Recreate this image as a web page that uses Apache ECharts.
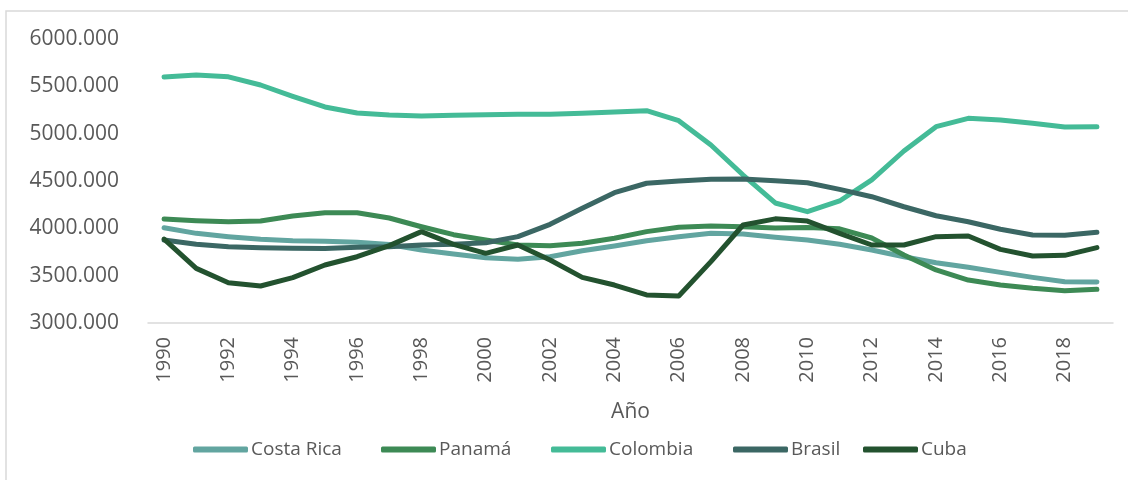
<!DOCTYPE html>
<html>
<head>
<meta charset="utf-8">
<script src="https://cdn.jsdelivr.net/npm/echarts@6/dist/echarts.min.js"></script>
<style>
  html, body { margin: 0; padding: 0; background: #fff; }
  #chart { width: 1128px; height: 480px; }
</style>
</head>
<body>
<div id="chart"></div>
<script>
var years = [];
for (var y = 1990; y <= 2019; y++) years.push(String(y));

// valores
var costaRica = [4007, 3947, 3912, 3884, 3869, 3863, 3852, 3830, 3771, 3729,
                 3690, 3673, 3700, 3764, 3813, 3869, 3912, 3947, 3940, 3905,
                 3877, 3831, 3771, 3700, 3637, 3588, 3535, 3482, 3436, 3433];
var panama = [4099, 4081, 4070, 4077, 4130, 4165, 4165, 4109, 4017, 3933,
              3877, 3824, 3817, 3842, 3895, 3965, 4011, 4025, 4017, 4003,
              4010, 3995, 3898, 3718, 3560, 3454, 3401, 3366, 3341, 3356];
var colombia = [5598, 5620, 5600, 5514, 5395, 5282, 5218, 5197, 5187, 5195,
                5200, 5205, 5204, 5215, 5230, 5243, 5137, 4880, 4563, 4268,
                4176, 4289, 4511, 4817, 5074, 5162, 5144, 5110, 5070, 5074];
var brasil = [3877, 3831, 3806, 3796, 3789, 3786, 3799, 3806, 3824, 3831,
              3848, 3912, 4042, 4211, 4377, 4476, 4500, 4518, 4521, 4503,
              4482, 4412, 4334, 4228, 4133, 4070, 3990, 3930, 3926, 3958];
var cuba = [3887, 3577, 3426, 3391, 3479, 3613, 3700, 3817, 3965, 3831,
            3736, 3824, 3665, 3482, 3401, 3296, 3285, 3648, 4035, 4100,
            4077, 3947, 3824, 3824, 3912, 3919, 3778, 3708, 3715, 3796];

var names = ['Costa Rica', 'Panamá', 'Colombia', 'Brasil', 'Cuba'];
var colors = ['#62a5a0', '#3d8a55', '#44bb97', '#3b6764', '#23522f'];
var values = [costaRica, panama, colombia, brasil, cuba];
// posición x de cada entrada de la leyenda
var legendLeft = [188, 376, 546, 728, 858];

var chart = echarts.init(document.getElementById('chart'));
var font = 'Open Sans';
var textColor = '#595959';

var series = names.map(function (n, i) {
    return {
        name: n,
        type: 'line',
        data: values[i],
        symbol: 'none',
        smooth: false,
        lineStyle: { width: 5, color: colors[i], cap: 'round', join: 'round' },
        itemStyle: { color: colors[i] }
    };
});

var legends = names.map(function (n, i) {
    return {
        left: legendLeft[i],
        top: 435,
        icon: 'roundRect',
        itemWidth: 55,
        itemHeight: 6,
        itemStyle: { borderWidth: 0 },
        textStyle: { fontFamily: font, fontSize: 19, color: textColor, padding: [0, 0, 0, -2] },
        data: [n]
    };
});

chart.setOption({
    animation: false,
    backgroundColor: '#fff',
    color: colors,
    textStyle: { fontFamily: font },
    graphic: [{
        type: 'rect',
        shape: { x: 6, y: 11, width: 1140, height: 490 },
        style: { fill: 'none', stroke: '#d9d9d9', lineWidth: 1.5 },
        silent: true
    }],
    grid: { left: 148, right: 15, top: 39, bottom: 157 },
    legend: legends,
    xAxis: {
        type: 'category',
        data: years,
        boundaryGap: true,
        name: 'Año',
        nameLocation: 'middle',
        nameGap: 79,
        nameTextStyle: { fontFamily: font, fontSize: 21, color: textColor },
        axisLine: { lineStyle: { color: '#d9d9d9', width: 1.5 } },
        axisTick: { show: false },
        axisLabel: {
            interval: 1,
            rotate: 90,
            margin: 14,
            fontFamily: font,
            fontSize: 20,
            color: textColor
        }
    },
    yAxis: {
        type: 'value',
        min: 3000,
        max: 6000,
        interval: 500,
        axisLine: { show: false },
        axisTick: { show: false },
        splitLine: { show: false },
        axisLabel: {
            margin: 29,
            fontFamily: font,
            fontSize: 21,
            color: textColor,
            formatter: function (v) { return v.toFixed(3); }
        }
    },
    series: series
});
</script>
</body>
</html>
